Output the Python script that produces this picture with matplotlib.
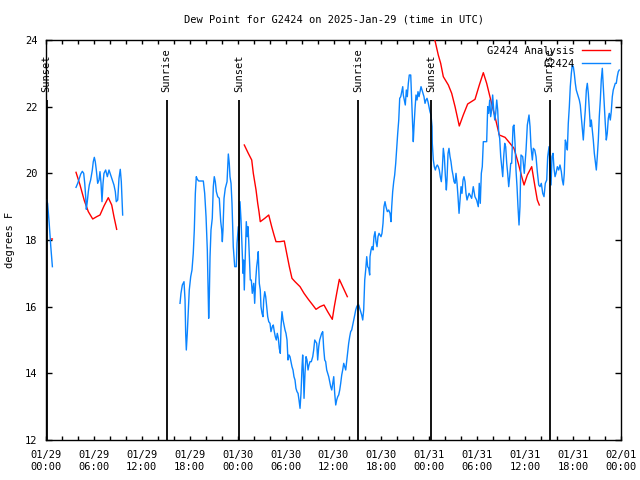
import numpy as np
import matplotlib
matplotlib.use("Agg")
import matplotlib.pyplot as plt
from matplotlib.ticker import MultipleLocator, FixedLocator, FixedFormatter

# ---------------- data ----------------
title = "Dew Point for G2424 on 2025-Jan-29 (time in UTC)"
ylabel = "degrees F"

tick_hours = [0, 6, 12, 18, 24, 30, 36, 42, 48, 54, 60, 66, 72]
tick_labels = ["01/29\n00:00", "01/29\n06:00", "01/29\n12:00", "01/29\n18:00",
               "01/30\n00:00", "01/30\n06:00", "01/30\n12:00", "01/30\n18:00",
               "01/31\n00:00", "01/31\n06:00", "01/31\n12:00", "01/31\n18:00",
               "02/01\n00:00"]

sun_names = ["Sunset", "Sunrise", "Sunset", "Sunrise", "Sunset", "Sunrise"]
sun_hours = [0.08, 15.1, 24.2, 39.1, 48.25, 63.05]

# G2424 Analysis (hours since 01/29 00:00 UTC, deg F); NaN = gap
analysis_hours = [
    0.70, 0.80, np.nan,
    3.76, 4.26, 4.80, 5.30, 5.85, 6.35, 6.76, 7.26, 7.80, 8.23, 8.51, 8.85, np.nan,
    24.83, 25.33, 25.76, 25.96, 26.30, 26.51, 26.67, 26.83, 27.39, 27.89, 28.26,
    28.55, 28.80, 29.30, 29.84, 30.14, 30.47, 30.80, 31.18, 31.81, 32.31, 32.85,
    33.40, 33.81, 34.31, 34.81, 35.27, 35.85, 36.10, 36.40, 36.73, 37.15, 37.73, np.nan,
    48.50, 49.12, 49.42, 49.75, 50.38, 50.80, 51.22, 51.75, 52.25, 52.80, 53.72,
    54.26, 54.76, 55.18, 55.69, 56.22, 56.76, 57.48, 58.10, 58.60, 59.14, 59.57,
    59.86, 60.27, 60.82, 61.23, 61.52, 61.77,
]
analysis_values = [
    18.03, 18.03, np.nan,
    20.03, 19.65, 19.18, 18.85, 18.63, 18.70, 18.75, 19.02, 19.27, 19.05, 18.70, 18.32, np.nan,
    20.85, 20.60, 20.40, 20.00, 19.50, 19.10, 18.85, 18.55, 18.65, 18.75, 18.40,
    18.15, 17.95, 17.95, 17.97, 17.60, 17.20, 16.85, 16.75, 16.60, 16.40, 16.22,
    16.05, 15.92, 16.00, 16.05, 15.85, 15.62, 16.00, 16.40, 16.82, 16.60, 16.30, np.nan,
    24.20, 23.55, 23.30, 22.90, 22.65, 22.40, 22.00, 21.42, 21.75, 22.08, 22.22,
    22.65, 23.02, 22.70, 22.20, 21.70, 21.15, 21.08, 20.90, 20.75, 20.30, 19.90,
    19.65, 19.95, 20.20, 19.60, 19.20, 19.05,
]

# G2424 observations
obs_hours = [
    0.05, 0.20, 0.40, 0.60, 0.80, np.nan,
    3.76, 3.97, 4.17, 4.35, 4.55, 4.72, 4.85, 4.97, 5.05, 5.17, 5.30, 5.42, 5.59,
    5.80, 5.92, 6.05, 6.17, 6.30, 6.47, 6.64, 6.76, 6.89, 7.01, 7.14, 7.26, 7.47,
    7.68, 7.89, 8.10, 8.30, 8.51, 8.68, 8.80, 8.98, 9.14, 9.30, 9.43, 9.60, np.nan,
    16.78, 16.90, 17.07, 17.28, 17.41, 17.49, 17.57, 17.69, 17.82, 17.94, 18.12,
    18.28, 18.44, 18.57, 18.70, 18.82, 18.95, 19.12, 19.37, 19.70, 19.87, 20.04,
    20.20, 20.32, 20.37, 20.45, 20.54, 20.66, 20.82, 20.95, 21.07, 21.20, 21.33,
    21.50, 21.70, 21.79, 21.88, 22.00, 22.08, 22.16, 22.29, 22.45, 22.67, 22.83,
    22.95, 23.04, 23.17, 23.29, 23.45, 23.63, 23.83, 23.92, 24.08, 24.17, 24.29,
    24.42, 24.54, 24.67, 24.75, 24.83, 24.96, 25.08, 25.21, 25.29, 25.38, 25.51,
    25.58, 25.71, 25.83, 26.01, 26.13, 26.26, 26.38, 26.51, 26.58, 26.63, 26.71,
    26.83, 26.92, 27.05, 27.17, 27.26, 27.39, 27.51, 27.64, 27.76, 27.89, 28.05,
    28.17, 28.34, 28.46, 28.59, 28.71, 28.84, 28.96, 29.09, 29.21, 29.34, 29.43,
    29.55, 29.68, 29.80, 29.93, 30.05, 30.18, 30.30, 30.43, 30.55, 30.68, 30.80,
    30.93, 31.05, 31.18, 31.30, 31.43, 31.56, 31.68, 31.81, 31.93, 32.06, 32.14,
    32.22, 32.31, 32.43, 32.56, 32.68, 32.81, 32.93, 33.06, 33.22, 33.40, 33.52,
    33.65, 33.77, 33.90, 34.02, 34.15, 34.27, 34.40, 34.52, 34.65, 34.77, 34.90,
    35.02, 35.15, 35.27, 35.40, 35.53, 35.65, 35.78, 35.90, 36.03, 36.15, 36.28,
    36.40, 36.53, 36.65, 36.78, 36.90, 37.03, 37.15, 37.28, 37.40, 37.53, 37.65,
    37.78, 37.90, 38.03, 38.15, 38.28, 38.41, 38.53, 38.66, 38.78, 38.91, 39.03,
    39.16, 39.28, 39.41, 39.53, 39.66, 39.78, 39.91, 40.03, 40.16, 40.28, 40.41,
    40.53, 40.57, 40.70, 40.82, 40.95, 41.07, 41.20, 41.32, 41.45, 41.57, 41.70,
    41.82, 41.95, 42.07, 42.20, 42.32, 42.45, 42.57, 42.74, 42.91, 43.08, 43.20,
    43.29, 43.41, 43.54, 43.66, 43.79, 43.91, 44.04, 44.17, 44.29, 44.42, 44.54,
    44.67, 44.74, 44.87, 44.99, 45.12, 45.24, 45.37, 45.49, 45.67, 45.74, 45.87,
    45.99, 46.08, 46.21, 46.33, 46.46, 46.58, 46.71, 46.83, 46.96, 47.08, 47.21,
    47.33, 47.46, 47.58, 47.71, 47.83, 47.96, 48.08, 48.21, 48.34, 48.37, 48.50,
    48.62, 48.75, 48.87, 49.00, 49.12, 49.25, 49.37, 49.50, 49.62, 49.75, 49.88,
    50.00, 50.13, 50.21, 50.34, 50.46, 50.59, 50.71, 50.84, 50.96, 51.09, 51.22,
    51.34, 51.47, 51.59, 51.72, 51.84, 51.97, 52.09, 52.22, 52.34, 52.47, 52.59,
    52.72, 52.84, 52.97, 53.09, 53.30, 53.50, 53.71, 53.92, 54.13, 54.25, 54.38,
    54.51, 54.63, 54.76, 55.18, 55.31, 55.43, 55.56, 55.68, 55.81, 55.93, 56.06,
    56.19, 56.31, 56.44, 56.56, 56.69, 56.81, 56.94, 57.06, 57.19, 57.31, 57.44,
    57.56, 57.69, 57.81, 57.94, 58.06, 58.19, 58.31, 58.48, 58.60, 58.73, 58.85,
    58.98, 59.10, 59.23, 59.35, 59.48, 59.69, 59.89, 60.11, 60.27, 60.48, 60.61,
    60.73, 60.90, 61.02, 61.20, 61.36, 61.52, 61.70, 61.86, 62.02, 62.20, 62.36,
    62.52, 62.70, 62.82, 62.99, 63.11, 63.24, 63.36, 63.49, 63.61, 63.74, 63.86,
    64.03, 64.20, 64.36, 64.53, 64.65, 64.78, 64.90, 65.03, 65.15, 65.28, 65.40,
    65.53, 65.65, 65.78, 65.90, 66.03, 66.15, 66.28, 66.40, 66.53, 66.65, 66.78,
    66.90, 67.03, 67.15, 67.28, 67.41, 67.53, 67.66, 67.78, 67.91, 68.03, 68.16,
    68.28, 68.41, 68.53, 68.66, 68.78, 68.91, 69.03, 69.16, 69.28, 69.41, 69.53,
    69.66, 69.78, 69.91, 70.03, 70.16, 70.28, 70.41, 70.53, 70.66, 70.78, 70.91,
    71.03, 71.16, 71.28, 71.41, 71.53, 71.66, 71.78,
]
obs_values = [
    19.20, 19.10, 18.50, 17.80, 17.20, np.nan,
    19.58, 19.70, 19.85, 19.98, 20.06, 20.00, 19.70, 19.30, 18.92, 19.15, 19.45, 19.65, 19.80,
    20.10, 20.35, 20.48, 20.35, 20.10, 19.70, 19.80, 20.05, 19.70, 19.15, 19.70, 20.00, 20.10,
    19.90, 20.10, 19.95, 19.80, 19.65, 19.45, 19.15, 19.20, 19.85, 20.12, 19.75, 18.75, np.nan,
    16.10, 16.40, 16.65, 16.75, 16.20, 15.20, 14.70, 15.20, 15.90, 16.50, 16.90,
    17.10, 17.60, 18.30, 19.40, 19.90, 19.82, 19.77, 19.77, 19.77, 19.40, 18.70,
    17.70, 16.30, 15.65, 16.30, 17.50, 18.30, 18.65, 19.60, 19.90, 19.75, 19.45,
    19.30, 19.25, 18.90, 18.55, 18.30, 17.95, 18.30, 19.25, 19.55, 19.75, 20.58,
    20.30, 19.90, 19.70, 19.10, 17.80, 17.20, 17.20, 17.90, 18.40, 18.00, 19.15,
    18.60, 17.80, 17.00, 17.40, 16.50, 17.55, 18.55, 18.10, 18.40, 18.00, 17.20,
    16.80, 16.80, 16.40, 16.70, 16.10, 16.80, 17.20, 17.45, 17.65, 17.20, 16.70,
    16.50, 16.00, 15.80, 15.70, 16.20, 16.45, 16.30, 16.00, 15.70, 15.55, 15.50,
    15.25, 15.40, 15.45, 15.25, 15.10, 15.00, 15.20, 15.05, 14.75, 14.60, 15.40,
    15.85, 15.60, 15.45, 15.30, 15.20, 15.00, 14.40, 14.55, 14.50, 14.35, 14.20,
    14.10, 13.90, 13.80, 13.55, 13.45, 13.40, 13.20, 12.95, 13.40, 14.20, 14.55,
    14.10, 13.25, 14.00, 14.50, 14.40, 14.10, 14.25, 14.35, 14.35, 14.50, 14.70,
    15.00, 14.95, 14.90, 14.40, 14.80, 15.00, 15.10, 15.20, 15.25, 14.75, 14.40,
    14.35, 14.10, 14.00, 13.90, 13.75, 13.60, 13.50, 13.70, 13.90, 13.40, 13.05,
    13.20, 13.30, 13.35, 13.50, 13.70, 13.95, 14.10, 14.30, 14.20, 14.10, 14.35,
    14.60, 14.90, 15.10, 15.25, 15.30, 15.45, 15.60, 15.75, 15.90, 16.00, 16.05,
    16.05, 15.95, 15.85, 15.75, 15.60, 15.90, 16.80, 17.10, 17.50, 17.20, 17.15,
    16.95, 17.50, 17.70, 17.80, 17.70, 18.10, 18.25, 17.95, 17.80, 18.10, 18.20,
    18.15, 18.10, 18.20, 18.50, 19.00, 19.15, 19.00, 18.85, 18.90, 18.80, 18.55,
    19.00, 19.45, 19.75, 19.95, 20.30, 20.75, 21.20, 21.60, 22.25, 22.30, 22.45,
    22.60, 22.35, 22.20, 22.05, 22.50, 22.30, 22.70, 22.95, 22.95, 22.50, 21.70,
    20.95, 21.40, 21.95, 22.35, 22.20, 22.45, 22.30, 22.45, 22.60, 22.50, 22.40,
    22.30, 22.10, 22.20, 22.25, 22.15, 22.00, 21.85, 21.75, 21.40, 20.90, 20.40,
    20.20, 20.10, 20.20, 20.25, 20.20, 20.10, 19.90, 19.75, 20.10, 20.75, 20.50,
    19.95, 19.50, 19.80, 20.60, 20.75, 20.50, 20.35, 20.10, 19.95, 19.75, 19.70,
    20.00, 19.70, 19.30, 18.80, 19.20, 19.60, 19.40, 19.80, 19.90, 19.75, 19.40,
    19.20, 19.30, 19.40, 19.35, 19.25, 19.60, 19.30, 19.20, 19.00, 19.70, 19.10,
    20.00, 20.20, 20.95, 20.95, 22.00, 21.80, 22.20, 21.70, 21.90, 22.35, 21.90,
    21.60, 21.80, 22.20, 21.90, 21.20, 21.05, 20.50, 20.20, 19.90, 20.50, 20.90,
    20.80, 20.30, 20.00, 19.60, 19.90, 20.30, 20.30, 21.40, 21.45, 20.90, 20.10,
    19.60, 19.00, 18.45, 19.00, 20.55, 20.50, 20.00, 20.70, 21.45, 21.75, 21.40,
    20.80, 20.40, 20.75, 20.70, 20.50, 20.05, 19.65, 19.60, 19.70, 19.40, 19.30,
    19.70, 19.80, 20.50, 20.80, 20.20, 19.65, 20.50, 20.60, 20.15, 19.90, 20.00,
    20.20, 20.10, 20.25, 20.05, 19.80, 19.65, 20.00, 21.00, 20.90, 20.70, 21.50,
    22.00, 22.60, 23.00, 23.25, 23.20, 23.00, 22.70, 22.50, 22.40, 22.30, 22.20,
    22.05, 21.70, 21.40, 21.00, 21.50, 21.90, 22.50, 22.70, 22.40, 21.90, 21.40,
    21.60, 21.30, 21.00, 20.60, 20.35, 20.10, 20.50, 21.00, 21.70, 22.20, 22.80,
    23.15, 22.60, 22.00, 21.50, 21.00, 21.20, 21.65, 21.80, 21.60, 21.85, 22.30,
    22.50, 22.60, 22.70, 22.70, 22.90, 23.05, 23.10,
]

# ---------------- plot ----------------
FONT = "DejaVu Sans Mono"
FS = 7.5
plt.rcParams["font.family"] = [FONT, "DejaVu Sans"]
plt.rcParams["font.size"] = FS

fig = plt.figure(figsize=(6.4, 4.8), dpi=100)
ax = fig.add_axes([46 / 640, 40 / 480, 575 / 640, 400 / 480])

ax.plot(analysis_hours, analysis_values, color="#ff0000", lw=1.0, label="G2424 Analysis", zorder=3)
ax.plot(obs_hours, obs_values, color="#0a84ff", lw=1.0, label="G2424", zorder=4)

ax.vlines(sun_hours, 12, 22.2, color="black", lw=1.3, zorder=5)
for h, name in zip(sun_hours, sun_names):
    ax.text(h, 22.45, name, rotation=90, ha="center", va="bottom", fontsize=FS,
            clip_on=False, zorder=6)

ax.set_xlim(0, 72)
ax.set_ylim(12, 24)
ax.xaxis.set_major_locator(FixedLocator(tick_hours))
ax.xaxis.set_major_formatter(FixedFormatter(tick_labels))
ax.xaxis.set_minor_locator(MultipleLocator(2))
ax.yaxis.set_major_locator(MultipleLocator(2))

ax.tick_params(axis="both", which="both", direction="in", top=True, right=True, width=1)
ax.tick_params(axis="x", which="both", length=3, pad=7)
ax.tick_params(axis="y", which="major", length=4, pad=6)
for lab in ax.get_xticklabels():
    lab.set_linespacing(1.25)

for s in ax.spines.values():
    s.set_linewidth(1.0)

ax.set_ylabel(ylabel, fontsize=FS)
ax.yaxis.set_label_coords(-31 / 575, 0.5)

fig.text(333.5 / 640, 1 - 20 / 480, title, ha="center", va="center", fontsize=FS)

leg = ax.legend(loc="upper right", bbox_to_anchor=(1 - 11 / 575, 1 - 6 / 400),
                frameon=False, markerfirst=False, handlelength=2.7,
                handletextpad=0.7, labelspacing=0.3, borderaxespad=0.0,
                borderpad=0.0, fontsize=FS)

fig.savefig("out.png", dpi=100)
